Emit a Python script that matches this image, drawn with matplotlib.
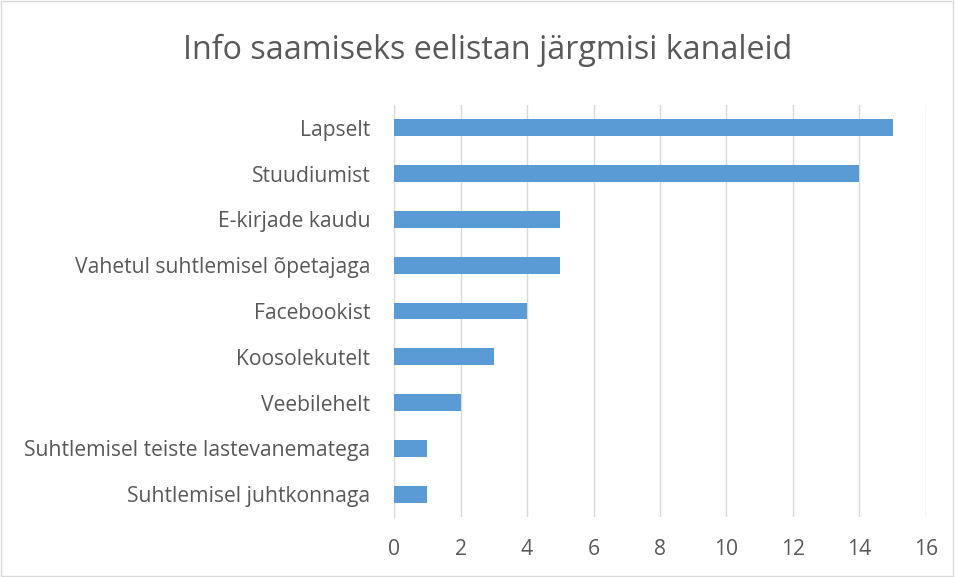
import matplotlib.pyplot as plt
from matplotlib.patches import Rectangle

categories = [
    "Lapselt",
    "Stuudiumist",
    "E-kirjade kaudu",
    "Vahetul suhtlemisel õpetajaga",
    "Facebookist",
    "Koosolekutelt",
    "Veebilehelt",
    "Suhtlemisel teiste lastevanematega",
    "Suhtlemisel juhtkonnaga",
]
values = [15, 14, 5, 5, 4, 3, 2, 1, 1]
x_ticks = [0, 2, 4, 6, 8, 10, 12, 14, 16]

text_color = "#595959"
plt.rcParams['font.family'] = ['Open Sans', 'DejaVu Sans']

fig = plt.figure(figsize=(9.55, 5.77), dpi=100)
ax = fig.add_axes([0.4126, 0.104, 0.557, 0.714])

pos = list(range(len(categories)))[::-1]
ax.barh(pos, values, height=0.37, color="#5B9BD5", zorder=3)

ax.set_xlim(0, 16)
ax.set_ylim(-0.5, len(categories) - 0.5)
ax.set_xticks(x_ticks)
ax.set_yticks(pos)
ax.set_yticklabels(categories)
ax.tick_params(axis='both', length=0, labelsize=15.2, colors=text_color)
ax.tick_params(axis='x', pad=16)
ax.tick_params(axis='y', pad=17)
ax.grid(axis='x', color="#d9d9d9", linewidth=1, zorder=0)

for side in ['top', 'right', 'bottom']:
    ax.spines[side].set_visible(False)
ax.spines['left'].set_color("#d9d9d9")

fig.text(0.511, 0.912, "Info saamiseks eelistan järgmisi kanaleid",
         ha='center', va='center', fontsize=23.2, color=text_color)

fig.patches.append(Rectangle((0.001, 0.001), 0.997, 0.997, transform=fig.transFigure,
                             fill=False, edgecolor="#d9d9d9", linewidth=1))

fig.savefig("out.png", dpi=100)
